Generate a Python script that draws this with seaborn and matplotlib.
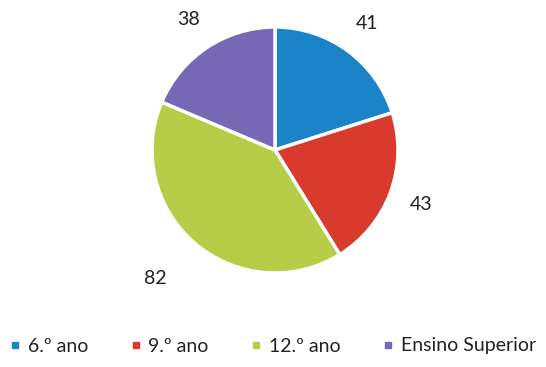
import matplotlib
matplotlib.use("Agg")
import matplotlib.pyplot as plt
import seaborn as sns
from matplotlib.lines import Line2D

categories = ["6.º ano", "9.º ano", "12.º ano", "Ensino Superior"]
values = [41, 43, 82, 38]
colors = ["#1b84c9", "#d83a2e", "#b7cd48", "#7668b4"]

sns.set_theme(style="white")
plt.rcParams["font.family"] = ["Lato", "DejaVu Sans"]

W, H = 546, 367
fig = plt.figure(figsize=(W / 100, H / 100), dpi=100)
fig.patch.set_facecolor("white")

cx, cy, r = 275, 150, 123
ax = fig.add_axes([(cx - r) / W, (H - cy - r) / H, 2 * r / W, 2 * r / H])

wedges, texts = ax.pie(
    values,
    colors=colors,
    startangle=90,
    counterclock=False,
    radius=1,
    labels=[str(v) for v in values],
    labeldistance=1.27,
    wedgeprops=dict(edgecolor="white", linewidth=2.5),
    textprops=dict(fontsize=14, color="#222222"),
)
ax.set_xlim(-1, 1)
ax.set_ylim(-1, 1)
ax.axis("off")
for t in texts:
    t.set_ha("center")
    t.set_va("center")
# the largest slice's label sits a little further out, toward the left
x, y = texts[2].get_position()
texts[2].set_position((x * 1.18, y * 1.08))

handles = [Line2D([0], [0], marker="s", linestyle="", markersize=4.5,
                  markerfacecolor=c, markeredgecolor=c) for c in colors]
fig.legend(handles, categories, loc="center", ncol=4,
           bbox_to_anchor=(0.5, 1 - 346 / H), frameon=False,
           fontsize=14, handlelength=0.5, handletextpad=0.4,
           columnspacing=2.2, labelcolor="#222222")

fig.savefig("out.png", dpi=100)
